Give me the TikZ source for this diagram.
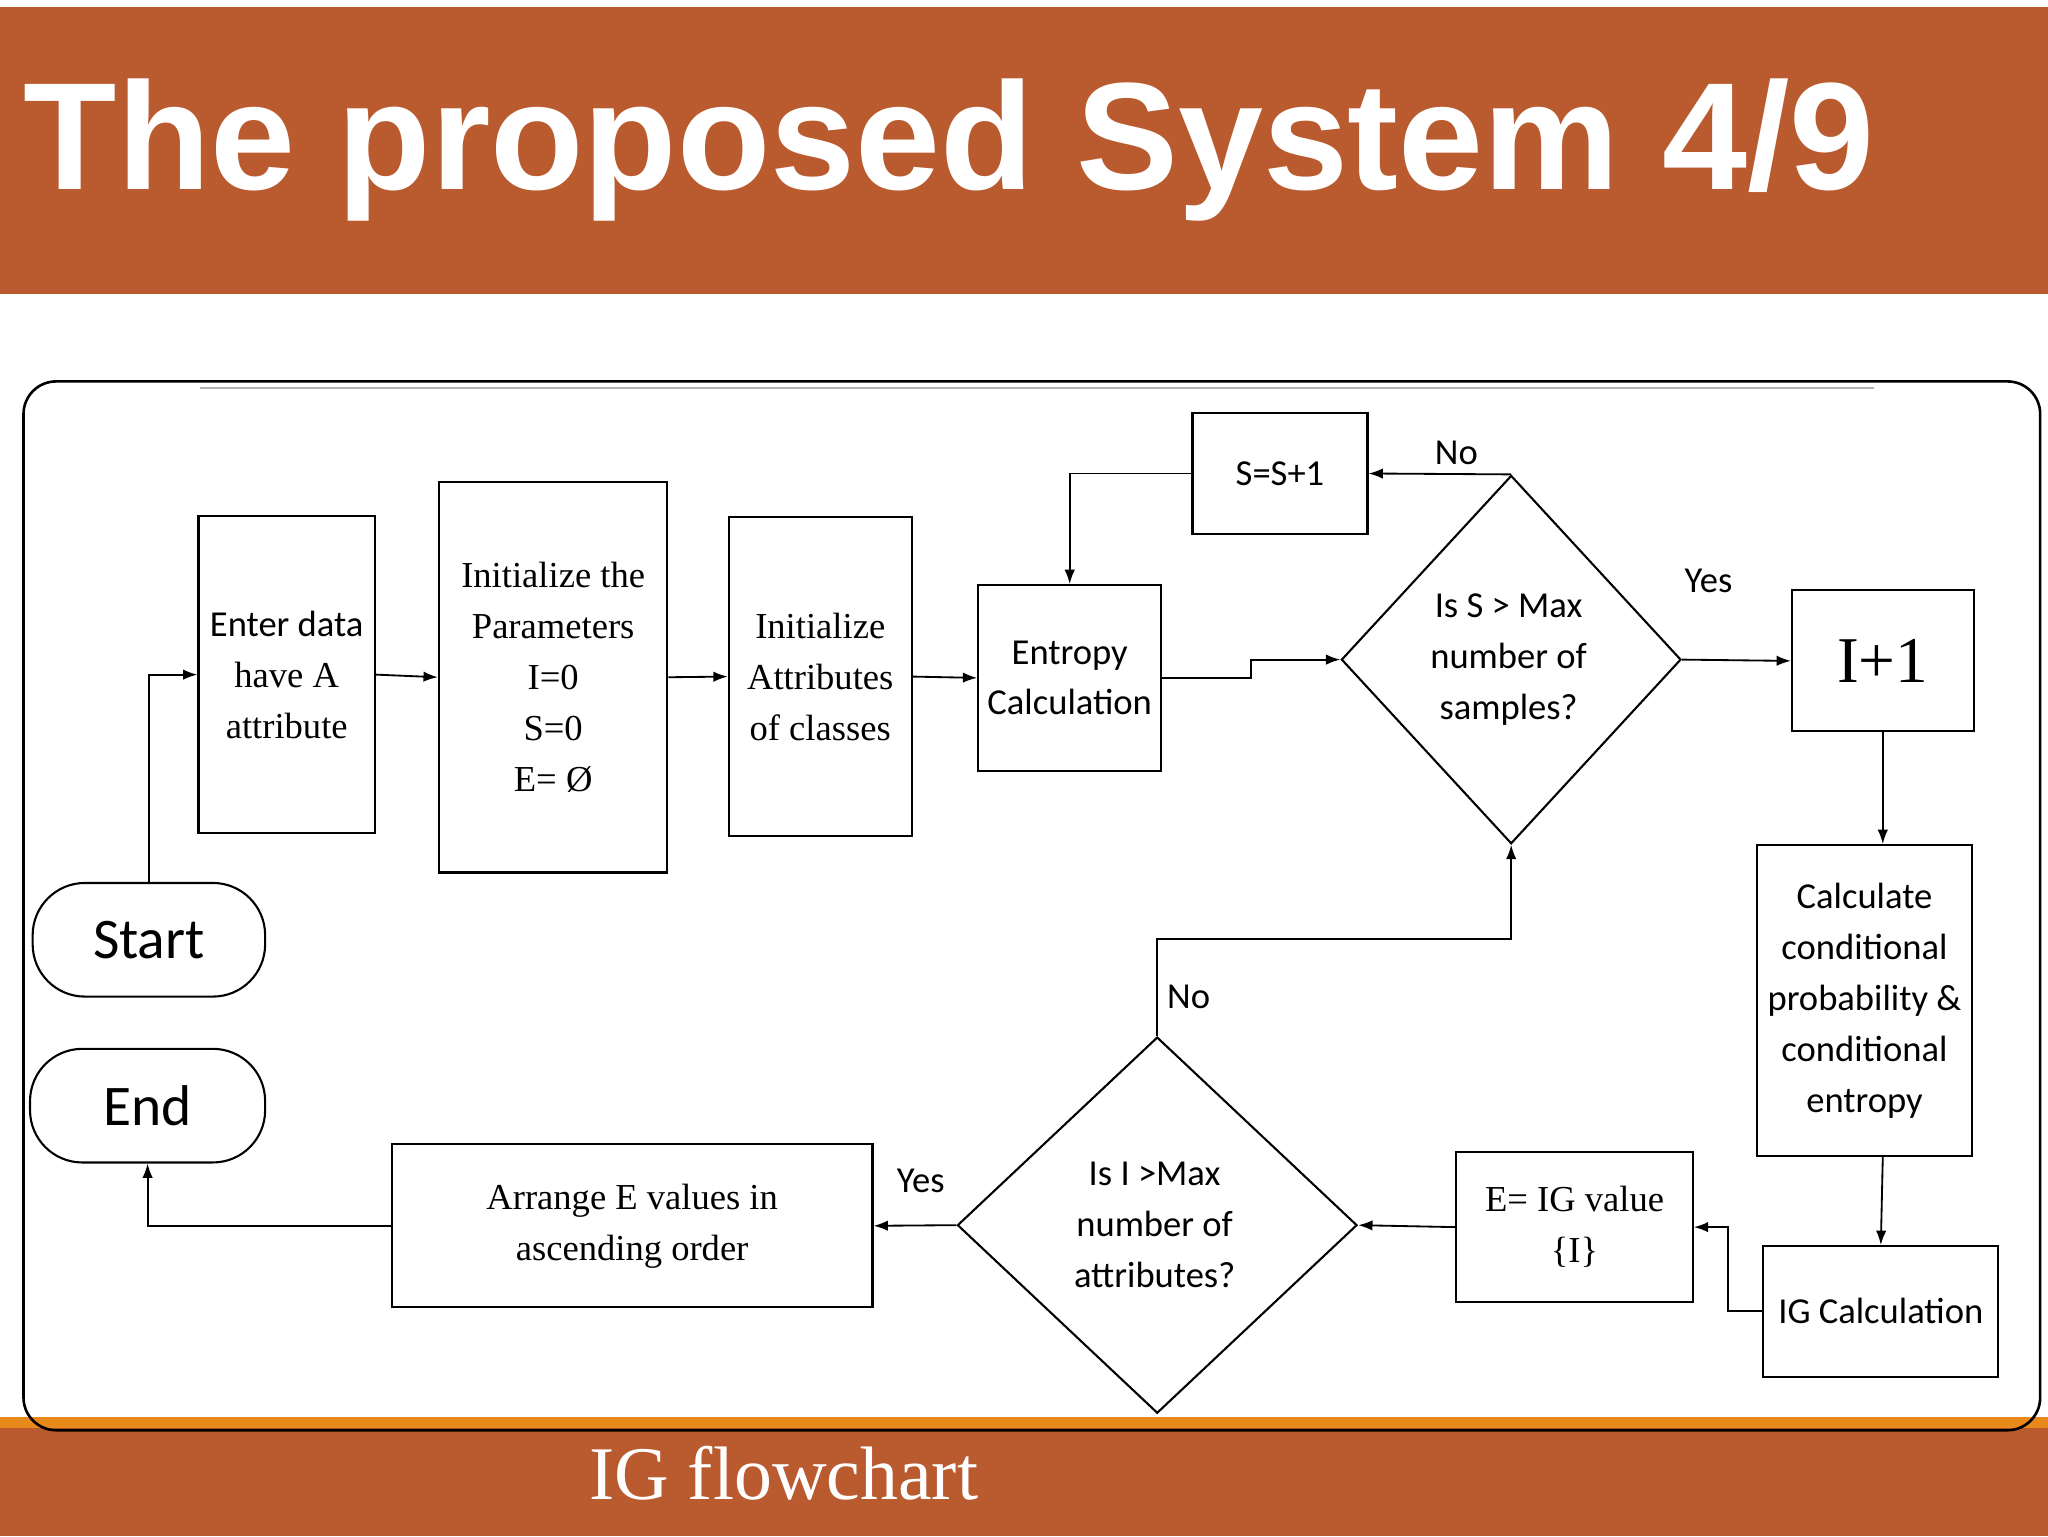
\documentclass[tikz,border=0pt]{standalone}
\usepackage{fontspec}
\setmainfont{Liberation Serif}
\newfontfamily\calfnt{Carlito}
\newfontfamily\ttlfnt{Liberation Sans}
\usetikzlibrary{arrows.meta,shapes.geometric}
\definecolor{brn}{HTML}{BA5A2F}
\definecolor{org}{HTML}{E8891C}
\begin{document}
\begin{tikzpicture}[x=1pt,y=-1pt,
 box/.style={draw,line width=1.6pt,inner sep=0pt,align=center},
 ar/.style={line width=1.4pt,-{Latex[length=11pt,width=8pt]}},
 sf/.style={font=\calfnt\fontsize{28}{39}\selectfont,align=center},
 rm/.style={font=\fontsize{28}{39}\selectfont,align=center}]
\useasboundingbox (0,0) rectangle (1568,1176);
\fill[white] (0,0) rectangle (1568,1176);
\fill[brn] (0,5) rectangle (1568,225);
\fill[brn] (0,1085) rectangle (1568,1176);
\fill[org] (0,1085) rectangle (1568,1093);
\node[anchor=base west,text=white,inner sep=0pt] (title) at (18,145)
 {\resizebox{1417pt}{!}{\ttlfnt\bfseries\fontsize{108}{110}\selectfont The proposed System 4/9}};
\node[text=white] (cap) at (600,1128) {\fontsize{58}{60}\selectfont IG flowchart};
\draw[line width=2pt,rounded corners=25pt] (18,292) rectangle (1562,1095);
\draw[gray!60,line width=1pt] (153,297) -- (1435,297);
% nodes
\node[box,rounded corners=40pt,minimum width=178pt,minimum height=87pt,font=\calfnt\fontsize{44}{48}\selectfont] (start) at (114,719.5) {Start};
\node[box,rounded corners=40pt,minimum width=180pt,minimum height=87pt,font=\calfnt\fontsize{44}{48}\selectfont] (end) at (113,846.5) {End};
\node[box,minimum width=135pt,minimum height=243pt,rm] (enter) at (219.5,516.5) {{\calfnt Enter data}\\have A\\attribute};
\node[box,minimum width=175pt,minimum height=299pt,rm] (par) at (423.5,518.5) {Initialize the\\Parameters\\I=0\\S=0\\E= Ø};
\node[box,minimum width=140pt,minimum height=244pt,rm] (attr) at (628,518) {Initialize\\Attributes\\of classes};
\node[box,minimum width=140pt,minimum height=142pt,sf] (ent) at (819,519) {Entropy\\Calculation};
\node[box,minimum width=134pt,minimum height=93pt,sf] (s1) at (980,362.5) {S=S+1};
\node[box,diamond,minimum width=260pt,minimum height=282pt,sf] (d1) at (1157,505) {};
\node[sf] (t1) at (1155,505) {Is S > Max\\number of\\samples?};
\node[box,minimum width=139pt,minimum height=108pt,font=\fontsize{50}{52}\selectfont] (i1) at (1441.5,506) {I+1};
\node[box,minimum width=165pt,minimum height=238pt,sf] (cc) at (1427.5,766) {Calculate\\conditional\\probability \&\\conditional\\entropy};
\node[box,minimum width=180pt,minimum height=100pt,sf] (igc) at (1440,1004) {IG Calculation};
\node[box,minimum width=181pt,minimum height=115pt,rm] (eig) at (1205.5,939.5) {E= IG value\\\{I\}};
\node[box,diamond,minimum width=306pt,minimum height=288pt] (d2) at (886,938) {};
\node[sf] (t2) at (884,938) {Is I >Max\\number of\\attributes?};
\node[box,minimum width=368pt,minimum height=125pt,rm] (arr) at (484,938.5) {Arrange E values in\\ascending order};
% connectors
\draw[ar] (start.north) |- (enter.west);
\draw[ar] (enter.east) -- (par.west);
\draw[ar] (par.east) -- (attr.west);
\draw[ar] (attr.east) -- (ent.west);
\draw[ar] (ent.east) -- (958,519) -- (958,505) -- (d1.west);
\draw[ar] (d1.north) -- (s1.east);
\draw[ar] (s1.west) -| (ent.north);
\draw[ar] (d1.east) -- (i1.west);
\draw[ar] (i1.south) -- (cc.north -| i1.south);
\draw[ar] (cc.south -| i1.south) -- (igc.north);
\draw[ar] (igc.west) -- (1323,1004) |- (eig.east);
\draw[ar] (eig.west) -- (d2.east);
\draw[ar] (d2.north) |- (1157,719) -- (d1.south);
\draw[ar] (d2.west) -- (arr.east);
\draw[ar] (arr.west) -| (end.south);
\node[sf] (no1) at (1115,347) {No};
\node[sf] (yes1) at (1308,445) {Yes};
\node[sf] (no2) at (910,763) {No};
\node[sf] (yes2) at (705,904) {Yes};
\end{tikzpicture}
\end{document}
